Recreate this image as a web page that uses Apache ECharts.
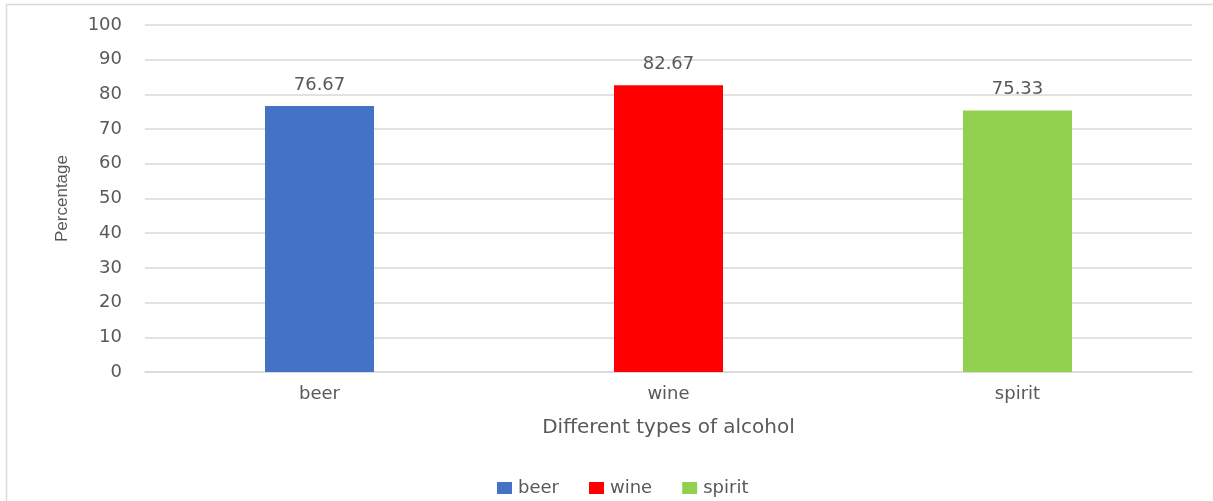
<!DOCTYPE html>
<html>
<head>
<meta charset="utf-8">
<script src="https://cdn.jsdelivr.net/npm/echarts@6/dist/echarts.min.js"></script>
<style>
  html, body { margin: 0; padding: 0; background: #ffffff; }
  #chart { width: 1213px; height: 501px; }
</style>
</head>
<body>
<div id="chart"></div>
<script>
// Share of respondents by type of alcohol
const categories = ['beer', 'wine', 'spirit'];
const percentages = [76.67, 82.67, 75.33];
const barColors = ['#4472C4', '#FF0000', '#92D050'];
const yTicks = { min: 0, max: 100, interval: 10 };

const textColor = '#595959';
const gridColor = '#D9D9D9';
const font = 'DejaVu Sans';

// One series per category so the legend lists each type; stacking keeps bars centred.
const series = categories.map((name, i) => ({
  name: name,
  type: 'bar',
  stack: 'alcohol',
  barWidth: 109,
  itemStyle: { color: barColors[i] },
  data: categories.map((c, j) => (j === i ? percentages[i] : null)),
  label: {
    show: true,
    position: 'top',
    distance: 12,
    color: textColor,
    fontFamily: font,
    fontSize: 18,
    formatter: p => p.value.toFixed(2)
  }
}));

const chart = echarts.init(document.getElementById('chart'), null, { renderer: 'canvas' });
chart.setOption({
  backgroundColor: '#ffffff',
  animation: false,
  graphic: [{
    type: 'rect',
    shape: { x: 6.5, y: 4.5, width: 1230, height: 530 },
    style: { fill: 'none', stroke: gridColor, lineWidth: 1.5 },
    silent: true
  }],
  grid: { left: 145, right: 21, top: 25, bottom: 129 },
  legend: {
    left: 492,
    top: 474,
    itemWidth: 15,
    itemHeight: 12,
    itemGap: 30,
    icon: 'rect',
    textStyle: { color: textColor, fontFamily: font, fontSize: 18, padding: [0, 0, 0, 1] },
    data: categories
  },
  xAxis: {
    type: 'category',
    data: categories,
    name: 'Different types of alcohol',
    nameLocation: 'middle',
    nameGap: 46,
    nameTextStyle: { color: textColor, fontFamily: font, fontSize: 20 },
    axisLine: { lineStyle: { color: gridColor, width: 1.5 } },
    axisTick: { show: false },
    axisLabel: { color: textColor, fontFamily: font, fontSize: 18, margin: 13 }
  },
  yAxis: {
    type: 'value',
    min: yTicks.min,
    max: yTicks.max,
    interval: yTicks.interval,
    name: 'Percentage',
    nameLocation: 'middle',
    nameGap: 74,
    nameRotate: 90,
    nameTextStyle: { color: textColor, fontFamily: 'Liberation Sans', fontSize: 17 },
    axisLine: { show: false },
    axisTick: { show: false },
    axisLabel: { color: textColor, fontFamily: font, fontSize: 18, margin: 23 },
    splitLine: { lineStyle: { color: gridColor, width: 1.5 } }
  },
  series: series
});
</script>
</body>
</html>
